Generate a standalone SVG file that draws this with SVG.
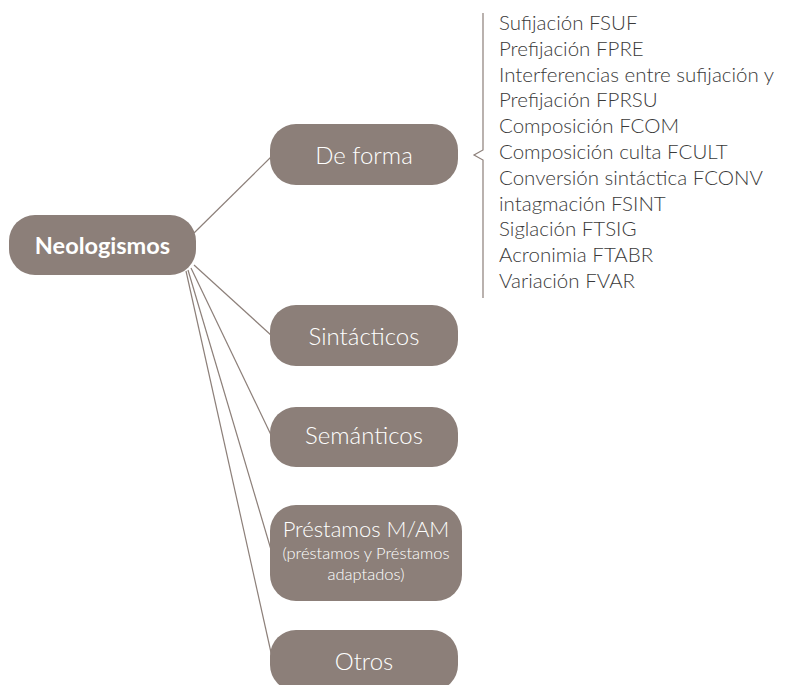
<svg xmlns="http://www.w3.org/2000/svg" width="787" height="685" viewBox="0 0 787 685">
<style>
.node{fill:#8c7f79}
.t{font-family:Lato,"Liberation Sans",sans-serif;fill:#ffffff;text-anchor:middle;font-weight:300}
.c{stroke:#8c7f79;stroke-width:1.2;fill:none}
.l{font-family:Lato,"Liberation Sans",sans-serif;font-weight:300;fill:#3a3a3a;font-size:20.5px}
</style>
<g id="connectors">
<line class="c" x1="194" y1="233" x2="272" y2="156"/>
<line class="c" x1="194" y1="265" x2="272" y2="336"/>
<line class="c" x1="191" y1="268" x2="272" y2="437"/>
<line class="c" x1="188" y1="270" x2="272" y2="553"/>
<line class="c" x1="186" y1="271" x2="272" y2="657"/>
<path class="c" d="M483 13 V150 L474 155 L483 160 V298"/>
</g>
<g id="neologismos">
<rect class="node" x="9" y="215" width="187" height="60" rx="26"/>
<text class="t" x="102.5" y="254" font-size="23.5" style="font-weight:700">Neologismos</text>
</g>
<g id="de-forma">
<rect class="node" x="270" y="124" width="188" height="61" rx="26"/>
<text class="t" x="364" y="164" font-size="24">De forma</text>
</g>
<g id="sintacticos">
<rect class="node" x="270" y="305" width="188" height="61" rx="26"/>
<text class="t" x="364" y="345" font-size="24">Sintácticos</text>
</g>
<g id="semanticos">
<rect class="node" x="270" y="407" width="188" height="60" rx="26"/>
<text class="t" x="364" y="444" font-size="24">Semánticos</text>
</g>
<g id="prestamos">
<rect class="node" x="270" y="505" width="192" height="96" rx="26"/>
<text class="t" x="366" y="537" font-size="22">Préstamos M/AM</text>
<text class="t" x="366" y="559" font-size="16.5">(préstamos y Préstamos</text>
<text class="t" x="366" y="580" font-size="16.5">adaptados)</text>
</g>
<g id="otros">
<rect class="node" x="270" y="630" width="188" height="61" rx="26"/>
<text class="t" x="364" y="670" font-size="24">Otros</text>
</g>
<g id="list">
<text class="l" x="499" y="30">Sufijación FSUF</text>
<text class="l" x="499" y="55.8">Prefijación FPRE</text>
<text class="l" x="499" y="81.6">Interferencias entre sufijación y</text>
<text class="l" x="499" y="107.4">Prefijación FPRSU</text>
<text class="l" x="499" y="133.2">Composición FCOM</text>
<text class="l" x="499" y="159">Composición culta FCULT</text>
<text class="l" x="499" y="184.8">Conversión sintáctica FCONV</text>
<text class="l" x="499" y="210.6">intagmación FSINT</text>
<text class="l" x="499" y="236.4">Siglación FTSIG</text>
<text class="l" x="499" y="262.2">Acronimia FTABR</text>
<text class="l" x="499" y="288">Variación FVAR</text>
</g>
</svg>
